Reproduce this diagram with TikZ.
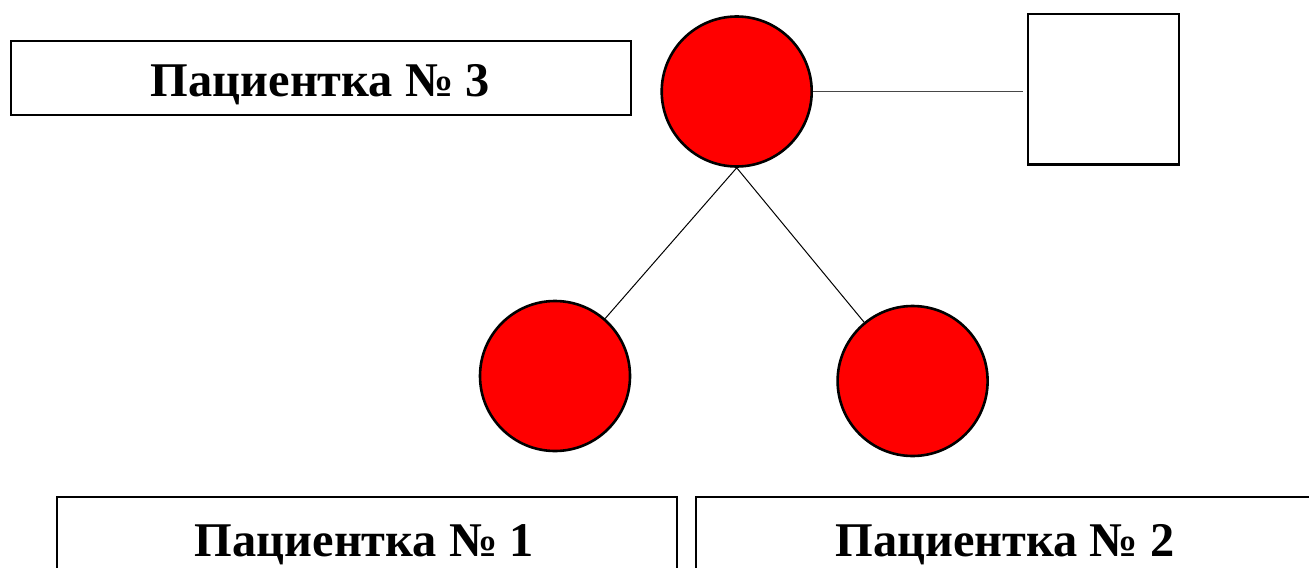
\documentclass[tikz,border=0pt]{standalone}
\usepackage{fontspec}
\setmainfont{Liberation Serif}
\begin{document}
\begin{tikzpicture}[x=0.5pt,y=-0.5pt,
  labelbox/.style={draw=black, line width=0.9pt, fill=white, rectangle, inner sep=0pt},
  labeltext/.style={anchor=base, inner sep=0pt, font=\fontsize{24.2pt}{29pt}\bfseries\selectfont},
  female/.style={circle, draw=black, line width=1.3pt, fill=red, minimum size=75pt, inner sep=0pt},
  male/.style={rectangle, draw=black, line width=1.1pt, fill=white, minimum width=75.5pt, minimum height=75pt, inner sep=0pt},
  descent/.style={draw=black, line width=0.5pt},
  mating/.style={draw=black!72, line width=0.7pt}]
\useasboundingbox (0,0) rectangle (1309,567);
\clip (0,0) rectangle (1309,567);
% label boxes
\node[labelbox, minimum width=310pt, minimum height=37.1pt] (p3box) at (321,77.9) {};
\node[labeltext] (p3) at (320.5,97) {Пациентка № 3};
\node[labelbox, minimum width=310pt, minimum height=61.5pt] (p1box) at (367,558.5) {};
\node[labeltext] (p1) at (364.5,556.5) {Пациентка № 1};
\node[labelbox, minimum width=309pt, minimum height=61.5pt] (p2box) at (1005,558.5) {};
\node[labeltext] (p2) at (1005,556.5) {Пациентка № 2};
% pedigree
\node[female] (mother) at (736.7,91.5) {};
\node[male] (father) at (1103.5,89.4) {};
\node[female] (d1) at (555,376) {};
\node[female] (d2) at (912.6,381) {};
\draw[mating, shorten >=2pt] (mother.east) -- (mother.east -| father.west);
\draw[descent] (mother.south) -- (d1);
\draw[descent] (mother.south) -- (d2);
\end{tikzpicture}
\end{document}
